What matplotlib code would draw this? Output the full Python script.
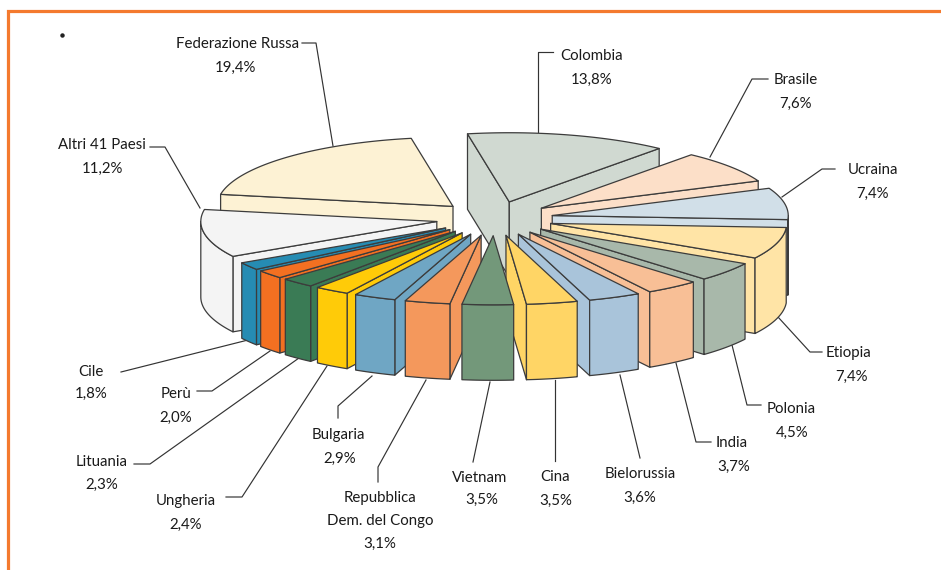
import numpy as np
import matplotlib
matplotlib.use("Agg")
import matplotlib.pyplot as plt
from matplotlib.patches import Polygon

categories = ["Colombia", "Brasile", "Ucraina", "Etiopia", "Polonia", "India",
              "Bielorussia", "Cina", "Vietnam", "Repubblica\nDem. del Congo",
              "Bulgaria", "Ungheria", "Lituania", "Perù", "Cile",
              "Altri 41 Paesi", "Federazione Russa"]
values = [13.8, 7.6, 7.4, 7.4, 4.5, 3.7, 3.6, 3.5, 3.5, 3.1, 2.9, 2.4, 2.3, 2.0, 1.8, 11.2, 19.4]
value_labels = ["13,8%", "7,6%", "7,4%", "7,4%", "4,5%", "3,7%", "3,6%", "3,5%", "3,5%",
                "3,1%", "2,9%", "2,4%", "2,3%", "2,0%", "1,8%", "11,2%", "19,4%"]
colors = ["#D0D9D1", "#FCDFC8", "#D1DFE8", "#FFE4A6", "#A8B8AA", "#F8BF96", "#A9C4DA",
          "#FFD565", "#73987A", "#F4985C", "#6FA6C4", "#FFCB08", "#3A7B55", "#F37021",
          "#268CB3", "#F4F4F4", "#FDF2D4"]

# Layout (pixels)
CX, CY, R, K, DEPTH, EXPLODE, START = 494.5, 218.5, 236.0, 0.293, 75.5, 58.6, -10.2
label_xy = [(592, 56), (796, 80), (873, 170), (849, 353), (791, 409), (732, 443),
            (640, 474), (555, 477), (480, 478), (380, 498), (338, 435), (186, 501),
            (102, 462), (176, 394), (91, 372), (102, 145), (238, 44)]
value_xy = [(592, 80), (796, 104), (873, 194), (852, 377), (792, 433), (734, 467),
            (640, 498), (556, 501), (482, 500), (380, 544), (340, 459), (186, 525),
            (102, 485), (176, 418), (91, 394), (102, 169), (235, 68)]
leaders = [[(553, 52), (538, 52), (538, 132)],
           [(768, 79), (752, 79), (710, 157)],
           [(835, 169), (822, 169), (782, 197)],
           [(822, 352), (810, 352), (778, 317)],
           [(761, 405), (747, 405), (732, 345)],
           [(711, 442), (696, 442), (676, 363)],
           [(640, 458), (620, 375)],
           [(555, 461), (555, 380)],
           [(473, 462), (490, 382)],
           [(378, 482), (378, 467), (426, 380)],
           [(338, 418), (338, 406), (372, 376)],
           [(226, 497), (242, 497), (327, 366)],
           [(134, 464), (150, 464), (306, 353)],
           [(197, 391), (212, 391), (270, 351)],
           [(121, 372), (248, 340)],
           [(150, 147), (165, 147), (200, 208)],
           [(302, 43), (316, 43), (333, 146)]]

plt.rcParams['font.family'] = ['Lato', 'DejaVu Sans']
fig = plt.figure(figsize=(9.41, 5.70), dpi=100)
ax = fig.add_axes([0, 0, 1, 1])
ax.set_xlim(0, 941)
ax.set_ylim(570, 0)
ax.axis("off")

EDGE = "#3c3c3c"
ORANGE = "#F47A2E"
ax.plot([8, 8, 941], [570, 11, 11], color=ORANGE, lw=2.3, solid_joinstyle="miter", zorder=1)
ax.plot([62], [35], "o", color="#222222", ms=2.2, zorder=1)

for pts in leaders:
    xs, ys = zip(*pts)
    ax.plot(xs, ys, color="#333333", lw=0.85, zorder=2)

vals = np.array(values)
angles = START + np.concatenate([[0], np.cumsum(vals / vals.sum() * 360)])


def rim(tip, a):
    r = np.radians(a)
    return np.column_stack([tip[0] + R * np.sin(r), tip[1] - R * K * np.cos(r)])


def down(p):
    return p + np.array([0, DEPTH])


order = sorted(range(len(vals)),
               key=lambda i: -np.cos(np.radians((angles[i] + angles[i + 1]) / 2)))
z = 3
for i in order:
    a0, a1 = angles[i], angles[i + 1]
    mid = np.radians((a0 + a1) / 2)
    tip = np.array([CX + EXPLODE * np.sin(mid), CY - EXPLODE * K * np.cos(mid)])
    style = dict(facecolor=colors[i], edgecolor=EDGE, lw=0.9, joinstyle="round", zorder=z)
    arc = rim(tip, np.linspace(a0, a1, 80))
    faces = []
    # radial cut faces turned to the viewer
    if np.sin(np.radians(a0)) < 0:
        faces.append(np.vstack([tip, arc[0], down(arc[0]), down(tip)]))
    if np.sin(np.radians(a1)) > 0:
        faces.append(np.vstack([tip, arc[-1], down(arc[-1]), down(tip)]))
    for f in faces:
        ax.add_patch(Polygon(f, closed=True, **style))
    # outer wall, front half of the rim only
    lo, hi = None, None
    for shift in (0, 360, -360):
        l, h = max(a0 + shift, 90), min(a1 + shift, 270)
        if h > l:
            lo, hi = l - shift, h - shift
    if lo is not None:
        wall = rim(tip, np.linspace(lo, hi, 60))
        ax.add_patch(Polygon(np.vstack([wall, down(wall)[::-1]]), closed=True, **style))
    ax.add_patch(Polygon(np.vstack([tip, arc]), closed=True, **style))
    z += 1

for name, lab, (x, y), (vx, vy) in zip(categories, value_labels, label_xy, value_xy):
    for k, part in enumerate(name.split("\n")):
        ax.text(x, y + k * 23, part, ha="center", va="center", fontsize=10.8, color="#1a1a1a", zorder=40)
    ax.text(vx, vy, lab, ha="center", va="center", fontsize=10.8, color="#1a1a1a", zorder=40)

fig.savefig("out.png", dpi=100)
